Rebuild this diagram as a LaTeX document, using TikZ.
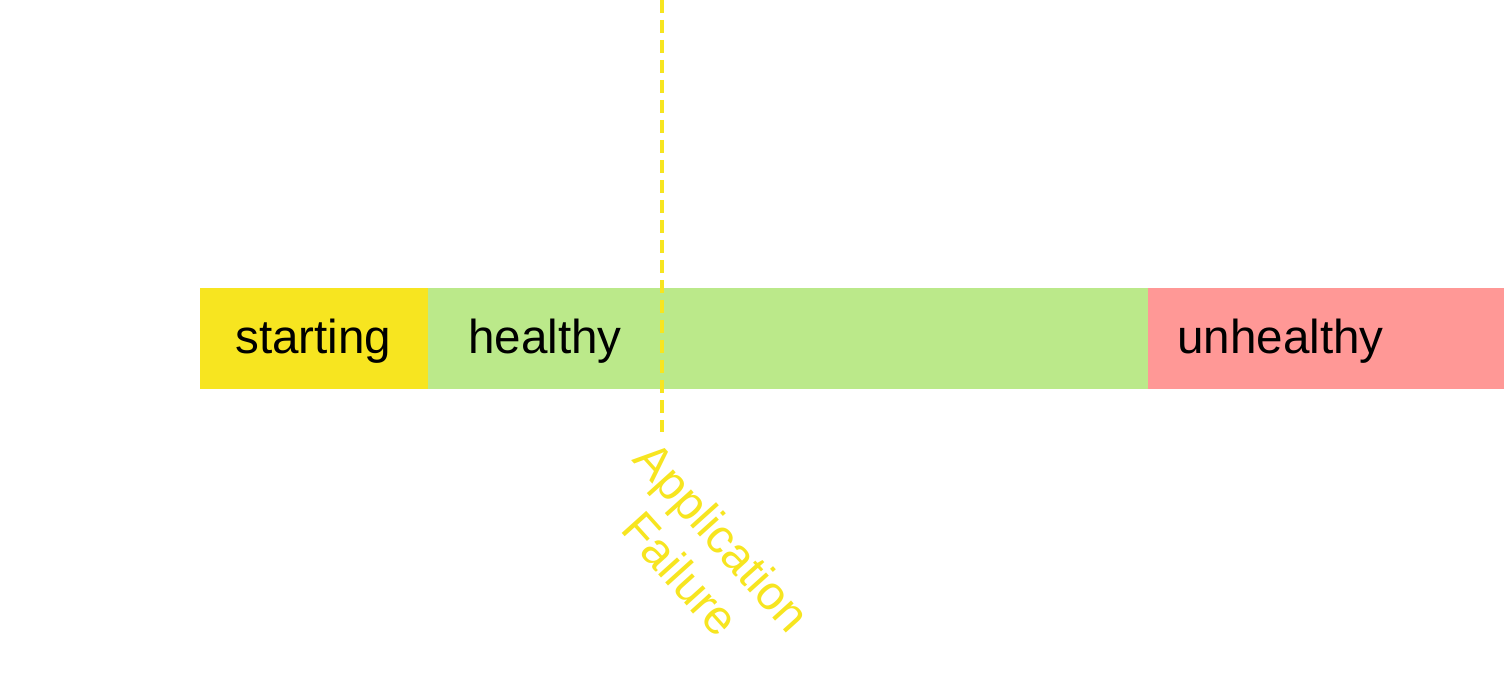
\documentclass[tikz,border=0pt]{standalone}
\usepackage{fontspec}
\setmainfont{Liberation Sans}
\definecolor{cYellow}{HTML}{F7E520}
\definecolor{cGreen}{HTML}{BBE98A}
\definecolor{cRed}{HTML}{FF9896}
\begin{document}
\begin{tikzpicture}[x=1pt,y=-1pt,
  seg/.style={draw=none,inner sep=0pt,outer sep=0pt,minimum height=101pt,anchor=north west},
  lbl/.style={inner sep=0pt,anchor=base west,font=\fontsize{47.6}{56}\selectfont,text=black},
  faildash/.style={draw=cYellow,line width=3.6pt,dash pattern=on 13pt off 7pt}]
\useasboundingbox (0,0) rectangle (1504,698);
\node[seg,fill=cYellow,minimum width=228pt] (start) at (200,288) {};
\node[seg,fill=cGreen,minimum width=720pt] (healthy) at (428,288) {};
\node[seg,fill=cRed,minimum width=356pt] (unhealthy) at (1148,288) {};
\node[lbl] (tstart) at (235,353) {starting};
\node[lbl] (thealthy) at (468,353) {healthy};
\node[lbl] (tunhealthy) at (1177,353) {unhealthy};
\coordinate (ltop) at (662,0);
\coordinate (lend) at (662,432);
\draw[faildash] (ltop) -- (lend);
\node[inner sep=0pt,align=center,rotate=-48,text=cYellow,font=\fontsize{48}{56}\selectfont] (fail) at (702,555) {Application\\Failure};
\end{tikzpicture}
\end{document}
